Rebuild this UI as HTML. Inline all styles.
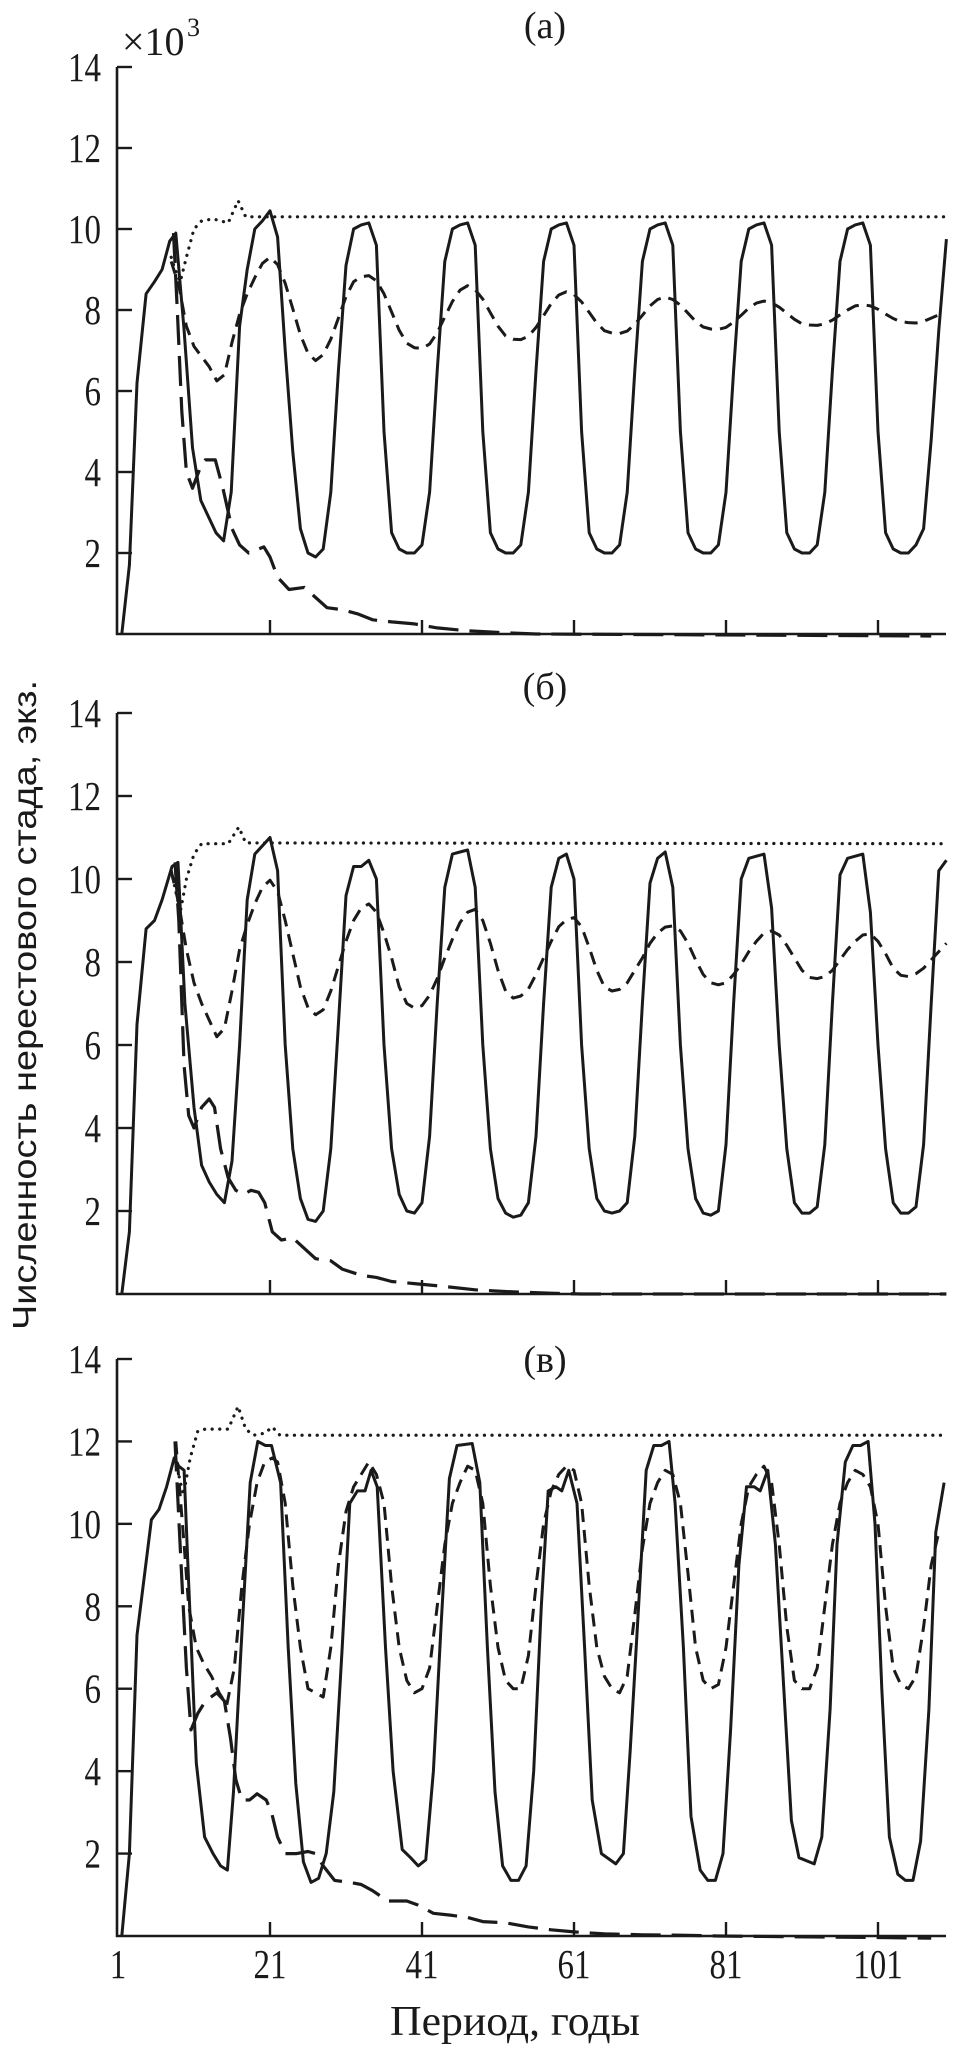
<!DOCTYPE html>
<html><head><meta charset="utf-8"><style>
html,body{margin:0;padding:0;background:#fff;}
svg{display:block;}
</style></head><body>
<svg id="chart" width="969" height="2053" viewBox="0 0 969 2053" xmlns="http://www.w3.org/2000/svg">
<g id="layer"></g>
</svg>
<script>
// ---------- data ----------
const yTicks = [2,4,6,8,10,12,14];
const yTickLabels = ["2","4","6","8","10","12","14"];
const xTicks = [1,21,41,61,81,101];
const xTickLabels = ["1","21","41","61","81","101"];
const panelLabels = ["(а)","(б)","(в)"];

// Panel a
const solidA_years = [1.5,2.5,3.5,4.7,5.8,6.8,7.8,8.6,9.7,10.8,11.9,13.9,14.9,15.9,17,18,19,20,21,22,23,24,25,26,27,28,29,30,31,32,33,34,35,36,37,38,39,40,41,42,43,44,45,46,47,48,49,50,51,52,53,54,55,56,57,58,59,60,61,62,63,64,65,66,67,68,69,70,71,72,73,74,75,76,77,78,79,80,81,82,83,84,85,86,87,88,89,90,91,92,93,94,95,96,97,98,99,100,101,102,103,104,105,106,107,108,109,110];
const solidA_vals = [0,1.7,6.2,8.4,8.7,9.0,9.7,9.9,7.5,4.6,3.3,2.5,2.3,3.5,7.6,9.0,10.0,10.2,10.45,9.8,7.0,4.5,2.6,2.0,1.9,2.1,3.5,6.5,9.1,10.0,10.1,10.15,
 9.6,5.0,2.5,2.1,2.0,2.0,2.2,3.5,6.5,9.2,10.0,10.1,10.15,
 9.6,5.0,2.5,2.1,2.0,2.0,2.2,3.5,6.5,9.2,10.0,10.1,10.15,
 9.6,5.0,2.5,2.1,2.0,2.0,2.2,3.5,6.5,9.2,10.0,10.1,10.15,
 9.6,5.0,2.5,2.1,2.0,2.0,2.2,3.5,6.5,9.2,10.0,10.1,10.15,
 9.6,5.0,2.5,2.1,2.0,2.0,2.2,3.5,6.5,9.2,10.0,10.1,10.15,
 9.6,5.0,2.5,2.1,2.0,2.0,2.2,2.6,4.8,7.5,9.75];
const shortA_years = [8,9,10,11,12,13,14,15,16,17,18,19,20,21,22,23,24,25,26,27,28,29,30,31,32,33,34,35,36,37,38,39,40,41,42,43,44,45,46,47,48,49,50,51,52,53,54,55,56,57,58,59,60,61,62,63,64,65,66,67,68,69,70,71,72,73,74,75,76,77,78,79,80,81,82,83,84,85,86,87,88,89,90,91,92,93,94,95,96,97,98,99,100,101,102,103,104,105,106,107,108,109];
const shortA_vals = [9.2,8.6,7.6,7.1,6.85,6.6,6.25,6.4,7.2,7.9,8.4,8.8,9.15,9.3,9.12,8.66,8.03,7.39,6.93,6.75,6.9,7.28,7.8,8.33,8.7,8.82,8.85,8.72,8.4,7.95,7.5,7.18,7.07,7.05,7.16,7.44,7.83,8.21,8.49,8.6,8.5,8.27,7.93,7.6,7.36,7.28,7.27,7.35,7.57,7.86,8.16,8.37,8.45,8.38,8.2,7.94,7.68,7.49,7.43,7.42,7.48,7.65,7.87,8.1,8.26,8.32,8.26,8.12,7.92,7.72,7.58,7.53,7.52,7.57,7.7,7.87,8.05,8.17,8.22,8.18,8.07,7.92,7.77,7.66,7.63,7.62,7.66,7.75,7.88,8.0,8.1,8.13,8.1,8.02,7.9,7.79,7.71,7.69,7.68,7.72,7.8,7.88];
const dotA_years = [8,8.5,9.2,10,11,12,13.5,15.5,16.8,17.8,110];
const dotA_vals = [9.3,9.0,8.7,9.3,10.0,10.2,10.25,10.15,10.7,10.3,10.3];
const longA_years = [8.3,8.8,9.4,10,10.8,11.8,12.5,13.8,14.8,16,17,18.2,20.2,21,22,23.5,25.5,27,28.5,30.5,32.5,34.5,37,40,43,47,52,56,108];
const longA_vals = [9.9,8,5.5,4.0,3.6,4.1,4.3,4.3,3.6,2.6,2.2,2.0,2.15,1.9,1.4,1.1,1.15,0.9,0.65,0.6,0.5,0.35,0.3,0.25,0.15,0.08,0.03,0,-0.05];

// Panel b
const solidB_years = [1.5,2.5,3.5,4.7,5.8,6.8,8.1,8.9,9.8,11,12,13,14,15,16,17,18,19,20,21,22,23,24,25,26,27,28,29,30,31,32,33,34,35,36,37,38,39,40,41,42,43,44,45,46,47,48,49,50,51,52,53,54,55,56,57,58,59,60,61,62,63,64,65,66,67,68,69,70,71,72,73,74,75,76,77,78,79,80,81,82,83,84,85,86,87,88,89,90,91,92,93,94,95,96,97,98,99,100,101,102,103,104,105,106,107,108,109,110];
const solidB_vals = [0,1.5,6.5,8.8,9.0,9.5,10.3,10.4,7.0,4.5,3.1,2.7,2.4,2.2,3.2,6.0,9.5,10.6,10.8,11.0,10.2,6.0,3.5,2.3,1.8,1.75,2.0,3.5,6.5,9.6,10.3,10.3,10.45,10.0,6.0,3.5,2.4,2.0,1.95,2.2,3.8,7.0,9.8,10.6,10.65,10.7,9.8,6.0,3.5,2.3,1.95,1.85,1.9,2.2,3.8,7.0,9.8,10.5,10.6,10.0,6.0,3.5,2.3,2.0,1.95,2.0,2.2,3.8,7.0,9.9,10.5,10.65,9.8,6.0,3.5,2.3,1.95,1.9,2.0,3.6,7.0,10.0,10.5,10.55,10.6,9.3,6.0,3.5,2.2,1.95,1.95,2.1,3.6,7.0,10.1,10.5,10.55,10.6,9.2,6.0,3.5,2.2,1.95,1.95,2.1,3.6,7.0,10.2,10.45];
const shortB_years = [8,9,10,11,12,13,14,15,16,17,18,19,20,21,22,23,24,25,26,27,28,29,30,31,32,33,34,35,36,37,38,39,40,41,42,43,44,45,46,47,48,49,50,51,52,53,54,55,56,57,58,59,60,61,62,63,64,65,66,67,68,69,70,71,72,73,74,75,76,77,78,79,80,81,82,83,84,85,86,87,88,89,90,91,92,93,94,95,96,97,98,99,100,101,102,103,104,105,106,107,108,109,110];
const shortB_vals = [10.2,9.4,8.3,7.5,7.0,6.6,6.2,6.4,7.3,8.3,8.9,9.4,9.8,9.97,9.7,9.0,8.2,7.4,6.9,6.73,6.85,7.3,7.9,8.5,9.0,9.3,9.4,9.2,8.7,8.1,7.4,7.0,6.89,6.95,7.2,7.6,8.1,8.55,8.95,9.2,9.27,9.0,8.45,7.8,7.3,7.13,7.18,7.35,7.7,8.1,8.5,8.85,9.02,9.07,8.85,8.35,7.8,7.4,7.3,7.34,7.5,7.8,8.1,8.45,8.7,8.84,8.87,8.75,8.45,8.05,7.7,7.5,7.45,7.5,7.7,7.95,8.25,8.5,8.7,8.75,8.65,8.4,8.1,7.8,7.63,7.6,7.65,7.8,8.05,8.3,8.5,8.65,8.68,8.5,8.2,7.85,7.68,7.65,7.72,7.85,8.05,8.25,8.45];
const dotB_years = [8,9.2,10,11,12,15.5,16.9,17.8,110];
const dotB_vals = [10.2,9.2,10.0,10.6,10.85,10.85,11.25,10.87,10.85];
const longB_years = [8.5,9,9.7,10.3,11,12,13,13.7,14.5,15.5,16.5,17.5,18.5,19.5,20.3,21.3,22.5,24,25.5,27,29,30.5,33,35,37,40,44,48,53,58,62,110];
const longB_vals = [10.4,9,5.5,4.3,4.0,4.5,4.7,4.5,3.5,2.8,2.5,2.4,2.5,2.45,2.2,1.5,1.3,1.35,1.1,0.85,0.8,0.6,0.45,0.4,0.3,0.25,0.18,0.1,0.05,0.02,0,0];

// Panel c
const solidC_years = [1.5,2.5,3.5,5.4,6.4,7.4,8.4,9.0,9.7,10.2,11.3,12.4,13.5,14.5,15.4,16.2,17.2,18.4,19.4,20.4,21.2,22.4,23.4,24.4,25.4,26.4,27.4,28.4,29.4,30.5,31.5,32.5,33.5,34.3,35.1,36.2,37.2,38.4,39.5,40.5,41.5,42.5,43.5,44.6,45.6,47.6,48.6,49.6,50.6,51.6,52.7,53.7,54.7,55.7,56.7,57.6,58.6,59.4,60.3,61.4,62.4,63.4,64.6,66.5,67.5,68.4,69.5,70.5,71.5,72.5,73.5,74.3,75.4,76.4,77.6,78.6,79.6,80.6,81.6,82.7,83.7,84.7,85.5,86.5,87.5,88.6,89.6,90.6,92.6,93.6,94.7,95.6,96.7,97.7,98.7,99.7,100.6,101.5,102.5,103.6,104.6,105.6,106.6,107.7,108.6,109.7];
const solidC_vals = [0,2,7.3,10.1,10.35,10.9,11.6,11.4,11.3,9.0,4.2,2.4,2.0,1.7,1.6,3.5,7,11.0,12.0,11.9,11.9,11.0,7.0,3.7,1.8,1.3,1.4,2.0,3.5,7.0,10.5,10.8,10.8,11.3,10.9,7,4,2.1,1.9,1.7,1.85,4,7.5,11.1,11.9,11.95,11.0,7,3.5,1.7,1.35,1.35,1.7,4,8,10.8,10.9,10.8,11.3,10.5,7,3.3,2.0,1.75,2.0,4.5,8,11.3,11.9,11.9,12.0,10.5,7,2.9,1.6,1.35,1.35,2.0,5,9,10.9,10.9,10.8,11.3,9.5,6,2.8,1.9,1.75,2.4,5.5,9.5,11.5,11.9,11.9,12.0,10,6,2.4,1.5,1.35,1.35,2.3,5.5,9.8,11.0];
const shortC_years = [8.6,9.7,10.3,11.3,12.3,13.3,14.3,15.3,16.3,17.3,18.3,19.3,20.3,21.3,22,23,24,25,26,27,28,29,30,31,32,33,34,35,36,37,38,39,40,41,42,43,44,45,46,47,48,49,50,51,52,53,54,55,56,57,58,59,60,61,62,63,64,65,66,67,68,69,70,71,72,73,74,75,76,77,78,79,80,81,82,83,84,85,86,87,88,89,90,91,92,93,94,95,96,97,98,99,100,101,102,103,104,105,106,107,108,109];
const shortC_vals = [12.0,9.5,8.0,7.0,6.6,6.3,5.9,5.6,6.5,8.5,10,11.0,11.5,11.6,11.5,10.5,8.5,7.0,6.0,5.9,5.8,7,9,10.3,10.9,11.2,11.5,11.2,10.5,8.5,7,6.2,5.9,6.0,6.5,8,9.5,10.5,11.0,11.4,11.3,10.5,8.5,7,6.2,6.0,6.0,6.8,8.5,10,10.8,11.2,11.4,11.3,10.5,8.5,7,6.3,6.0,5.9,6.3,7.8,9.4,10.5,11.0,11.3,11.2,10.5,8.8,7,6.2,6.0,6.1,7,8.5,10,10.9,11.2,11.4,11.0,9.5,7.5,6.2,6.0,6.0,6.5,8,9.5,10.5,11.0,11.3,11.2,10.9,10,8,6.5,6.1,6.0,6.3,7.5,9,9.8];
const dotC_years = [8.6,9.6,10.5,11.5,12.5,15.5,16.8,17.8,18.8,20.3,21.3,22.3,110];
const dotC_vals = [11.5,10.7,11.6,12.25,12.3,12.3,12.85,12.3,12.15,12.2,12.35,12.15,12.15];
const longC_years = [8.5,9.3,10,10.6,11.5,12.5,14,15,15.8,16.5,17.3,18.3,19.3,20.5,21.2,22,23,24.5,26,27,28,29.5,31.5,33,34.5,36.5,39,40.5,42.5,45,47,49,52,55,58,61,65,70,75,80,108];
const longC_vals = [12.0,9,6.5,5.0,5.4,5.7,5.9,5.7,4.8,3.8,3.3,3.3,3.45,3.3,3.0,2.4,2.0,2.0,2.05,2.0,1.7,1.35,1.3,1.25,1.1,0.85,0.85,0.75,0.55,0.5,0.45,0.35,0.32,0.22,0.15,0.1,0.05,0.03,0.02,0,-0.05];

// ---------- drawing ----------
const NS = "http://www.w3.org/2000/svg";
const layer = document.getElementById("layer");
const X0 = 118, PX_PER_YEAR = 7.6, AXIS_END = 946;
function xScale(yr){ return X0 + (yr - 1) * PX_PER_YEAR; }
const panels = [
  {key:"a", top:67, bottom:634, titleY:38, series:[[solidA_years,solidA_vals,"solid"],[shortA_years,shortA_vals,"short"],[dotA_years,dotA_vals,"dot"],[longA_years,longA_vals,"long"]]},
  {key:"b", top:713, bottom:1294, titleY:699, series:[[solidB_years,solidB_vals,"solid"],[shortB_years,shortB_vals,"short"],[dotB_years,dotB_vals,"dot"],[longB_years,longB_vals,"long"]]},
  {key:"c", top:1359, bottom:1936, titleY:1372, series:[[solidC_years,solidC_vals,"solid"],[shortC_years,shortC_vals,"short"],[dotC_years,dotC_vals,"dot"],[longC_years,longC_vals,"long"]]}
];
function mk(tag, attrs, parent){
  const el = document.createElementNS(NS, tag);
  for (const k in attrs) el.setAttribute(k, attrs[k]);
  (parent||layer).appendChild(el);
  return el;
}
const styles = {
  solid:{dash:"", w:3},
  short:{dash:"13 8", w:3},
  dot:{dash:"0.1 7.5", w:3.2},
  long:{dash:"30 11", w:3.2}
};
panels.forEach((p, pi) => {
  const g = mk("g", {});
  
  
  const yScale = v => p.bottom - v * (p.bottom - p.top) / 14;
  const ya = mk("line", {x1:X0-1, y1:p.top, x2:X0-1, y2:p.bottom+1, stroke:"#1a1a1a","stroke-width":2.6}, g);
  
  
  const xa = mk("line", {x1:X0-2, y1:p.bottom, x2:AXIS_END, y2:p.bottom, stroke:"#1a1a1a","stroke-width":2.6}, g);
  
  
  yTicks.forEach((t, i) => {
    const y = yScale(t);
    const tk = mk("line", {x1:X0-1, y1:y, x2:X0+14, y2:y, stroke:"#1a1a1a","stroke-width":2.4}, g);
    
    
    const lab = yTickLabels[i];
    const tx = mk("text", {x:101, y:y+14, "text-anchor":"end", "font-family":"'Liberation Serif', serif", "font-size":41, fill:"#1a1a1a", textLength: lab.length*16.5, lengthAdjust:"spacingAndGlyphs"}, g);
    tx.textContent = lab;
    
    
  });
  xTicks.forEach((t, i) => {
    if (t === 1) return;
    const x = xScale(t);
    const tk = mk("line", {x1:x, y1:p.bottom, x2:x, y2:p.bottom-14, stroke:"#1a1a1a","stroke-width":2.4}, g);
    
    
  });
  if (pi === 2) {
    xTicks.forEach((t, i) => {
      const lab = xTickLabels[i];
      const tx = mk("text", {x:xScale(t), y:1978, "text-anchor":"middle", "font-family":"'Liberation Serif', serif", "font-size":41, fill:"#1a1a1a", textLength: lab.length*16.5, lengthAdjust:"spacingAndGlyphs"}, g);
      tx.textContent = lab;
      
      
    });
  }
  const title = mk("text", {x:545, y:p.titleY, "text-anchor":"middle", "font-family":"'Liberation Serif', serif", "font-size":38, fill:"#1a1a1a"}, g);
  title.textContent = panelLabels[pi];
  
  
  p.series.forEach(s => {
    const yrs = s[0], vals = s[1], st = styles[s[2]];
    let d = "";
    for (let i = 0; i < yrs.length; i++) {
      d += (i ? "L" : "M") + xScale(yrs[i]).toFixed(1) + "," + yScale(vals[i]).toFixed(1);
    }
    const path = mk("path", {d:d, fill:"none", stroke:"#1a1a1a", "stroke-width":st.w, "stroke-linejoin":"round", "stroke-linecap": s[2]==="dot" ? "round" : "butt"}, g);
    if (st.dash) path.setAttribute("stroke-dasharray", st.dash);
    
    
  });
});
const mult = mk("text", {x:122, y:55, "font-family":"'Liberation Serif', serif", "font-size":40, fill:"#1a1a1a"});
mult.textContent = "×10";


const sup = mk("text", {x:187, y:36, "font-family":"'Liberation Serif', serif", "font-size":26, fill:"#1a1a1a"});
sup.textContent = "3";


const yt = mk("text", {x:0, y:0, transform:"translate(36,1005) rotate(-90)", "text-anchor":"middle", "font-family":"'Liberation Sans', sans-serif", "font-size":33, fill:"#1a1a1a", textLength:650, lengthAdjust:"spacingAndGlyphs"});
yt.textContent = "Численность нерестового стада, экз.";


const xt = mk("text", {x:515, y:2035, "text-anchor":"middle", "font-family":"'Liberation Serif', serif", "font-size":42, fill:"#1a1a1a", textLength:250, lengthAdjust:"spacingAndGlyphs"});
xt.textContent = "Период, годы";


</script>
</body></html>
